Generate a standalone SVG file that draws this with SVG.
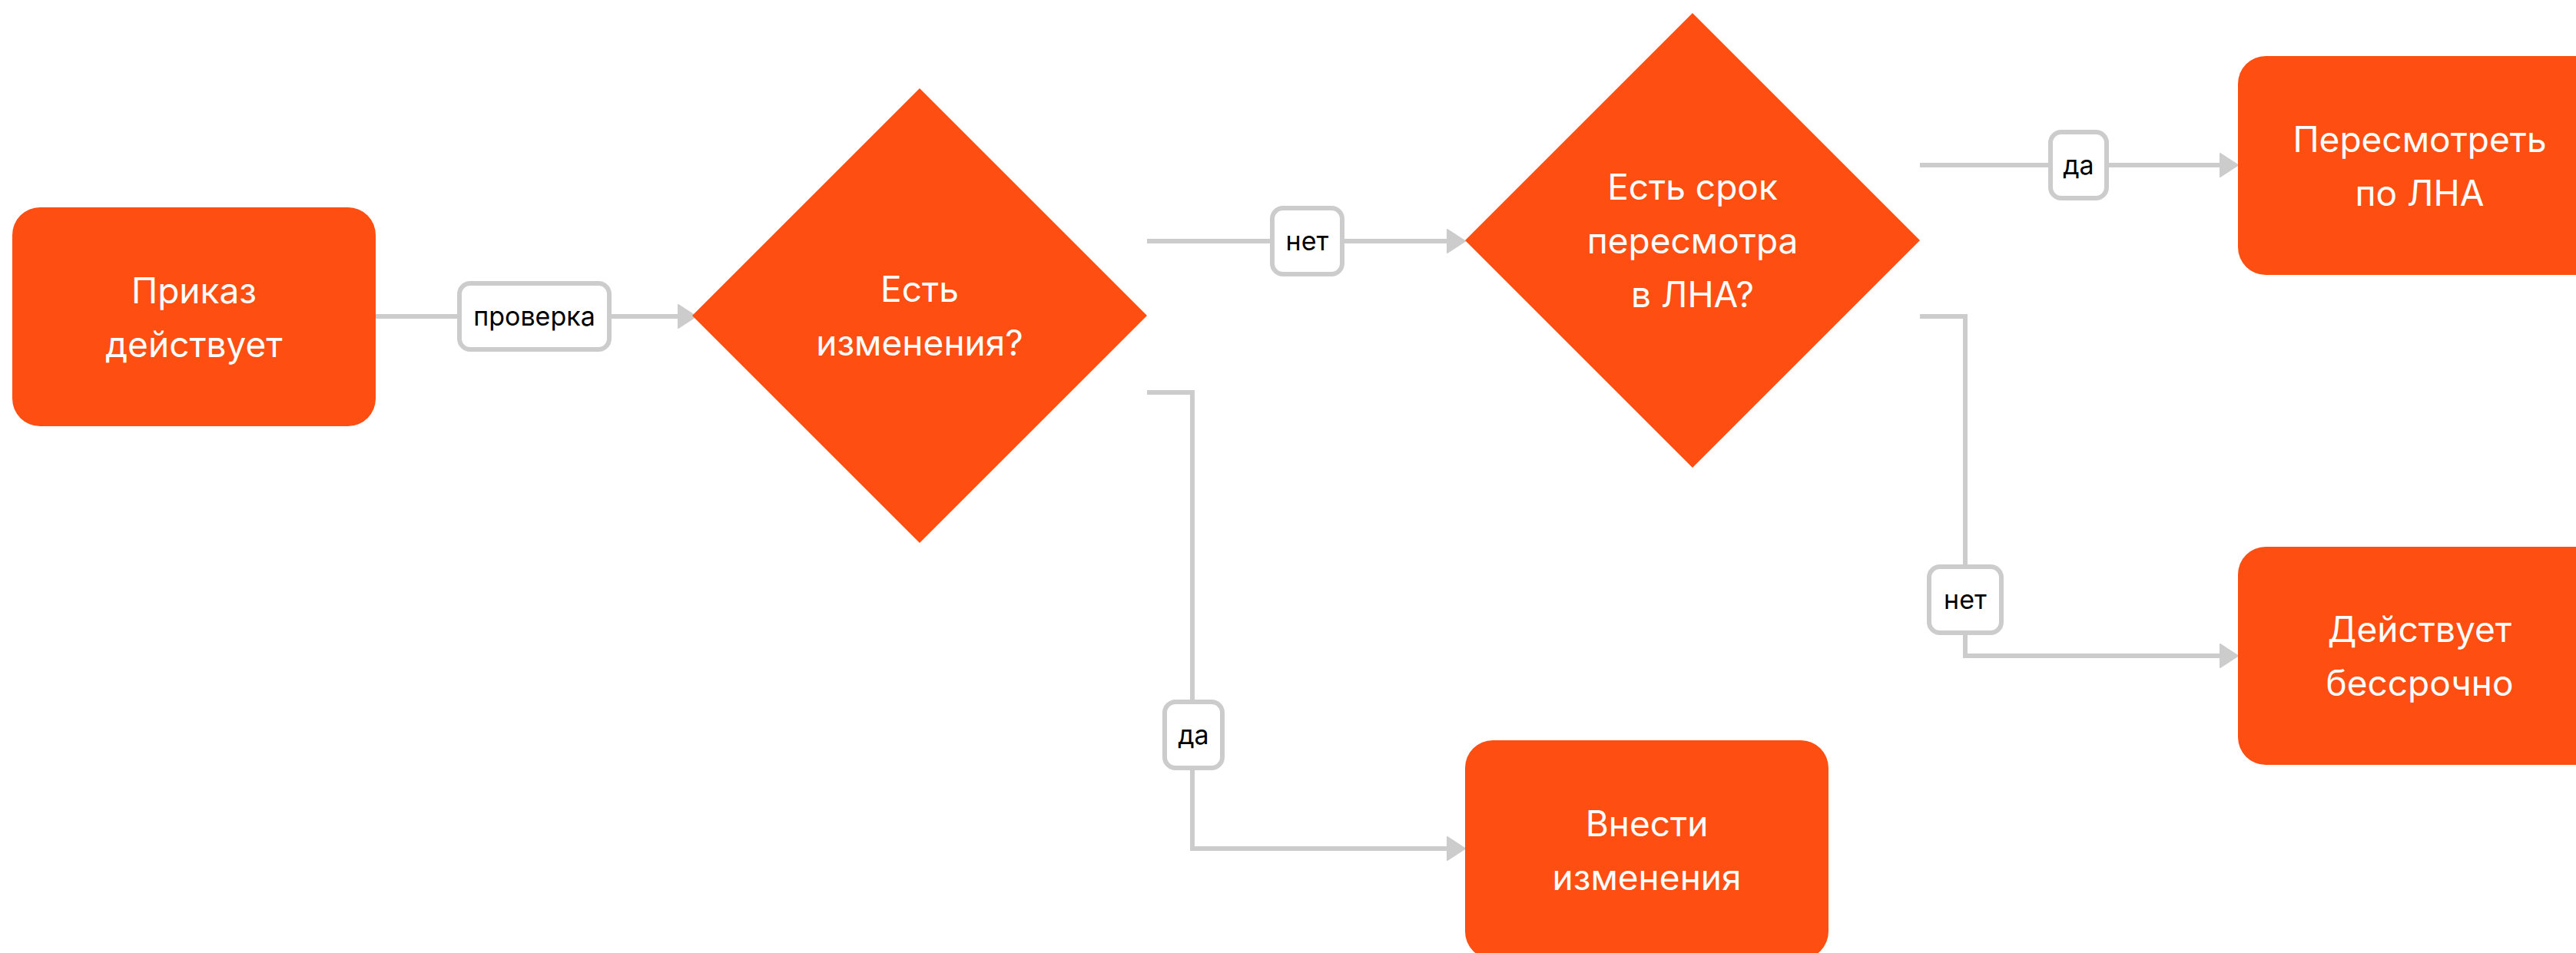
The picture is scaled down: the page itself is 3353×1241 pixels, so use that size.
<svg xmlns="http://www.w3.org/2000/svg" width="3353" height="1241" viewBox="0 0 3353 1241">
<style>
.node{fill:#FF4E12}
.nt{font-family:Inter,"Liberation Sans",sans-serif;font-size:46px;fill:#FFFFFF;text-anchor:middle}
.edge{fill:none;stroke:#CCCCCC;stroke-width:6}
.lbl{fill:#FFFFFF;stroke:#CCCCCC;stroke-width:6}
.lt{font-family:Inter,"Liberation Sans",sans-serif;font-size:34px;fill:#000000;text-anchor:middle}
</style>
<defs>
<marker id="arr" markerUnits="userSpaceOnUse" markerWidth="26" markerHeight="34" refX="12" refY="16" orient="auto">
<path d="M1,1 L24,16 L1,31 Z" fill="#CCCCCC" stroke="#CCCCCC" stroke-width="2" stroke-linejoin="round"/>
</marker>
</defs>
<rect width="3353" height="1241" fill="#FFFFFF"/>
<g id="connectors">
<g id="e1"><path class="edge" d="M489,412 H894" marker-end="url(#arr)"/><rect class="lbl" x="598" y="369" width="195" height="86" rx="14"/><text class="lt" x="695.5" y="424">проверка</text></g>
<g id="e2"><path class="edge" d="M1493,314 H1895" marker-end="url(#arr)"/><rect class="lbl" x="1656" y="271" width="91" height="86" rx="14"/><text class="lt" x="1701.5" y="326">нет</text></g>
<g id="e3"><path class="edge" d="M1493,511 H1552 V1105 H1895" marker-end="url(#arr)"/><rect class="lbl" x="1516" y="914" width="75" height="86" rx="14"/><text class="lt" x="1553.5" y="969">да</text></g>
<g id="e4"><path class="edge" d="M2499,215 H2901" marker-end="url(#arr)"/><rect class="lbl" x="2669" y="172" width="73" height="86" rx="14"/><text class="lt" x="2705.5" y="227">да</text></g>
<g id="e5"><path class="edge" d="M2499,412 H2558 V854 H2901" marker-end="url(#arr)"/><rect class="lbl" x="2511" y="738" width="94" height="86" rx="14"/><text class="lt" x="2558" y="793">нет</text></g>
</g>
<g id="n1"><rect class="node" x="16" y="270" width="473" height="285" rx="36"/><text class="nt" x="252.5" y="395">Приказ</text><text class="nt" x="252.5" y="465">действует</text></g>
<g id="d1"><polygon class="node" points="1197,115 1493,411 1197,707 901,411"/><text class="nt" x="1197" y="393">Есть</text><text class="nt" x="1197" y="463">изменения?</text></g>
<g id="d2"><polygon class="node" points="2203,17 2499,313 2203,609 1907,313"/><text class="nt" x="2203" y="260">Есть срок</text><text class="nt" x="2203" y="330">пересмотра</text><text class="nt" x="2203" y="400">в ЛНА?</text></g>
<g id="n2"><rect class="node" x="2913" y="73" width="473" height="285" rx="36"/><text class="nt" x="3149.5" y="198">Пересмотреть</text><text class="nt" x="3149.5" y="268">по ЛНА</text></g>
<g id="n3"><rect class="node" x="2913" y="712" width="473" height="284" rx="36"/><text class="nt" x="3149.5" y="836">Действует</text><text class="nt" x="3149.5" y="906">бессрочно</text></g>
<g id="n4"><rect class="node" x="1907" y="964" width="473" height="285" rx="36"/><text class="nt" x="2143.5" y="1089">Внести</text><text class="nt" x="2143.5" y="1159">изменения</text></g>
</svg>
